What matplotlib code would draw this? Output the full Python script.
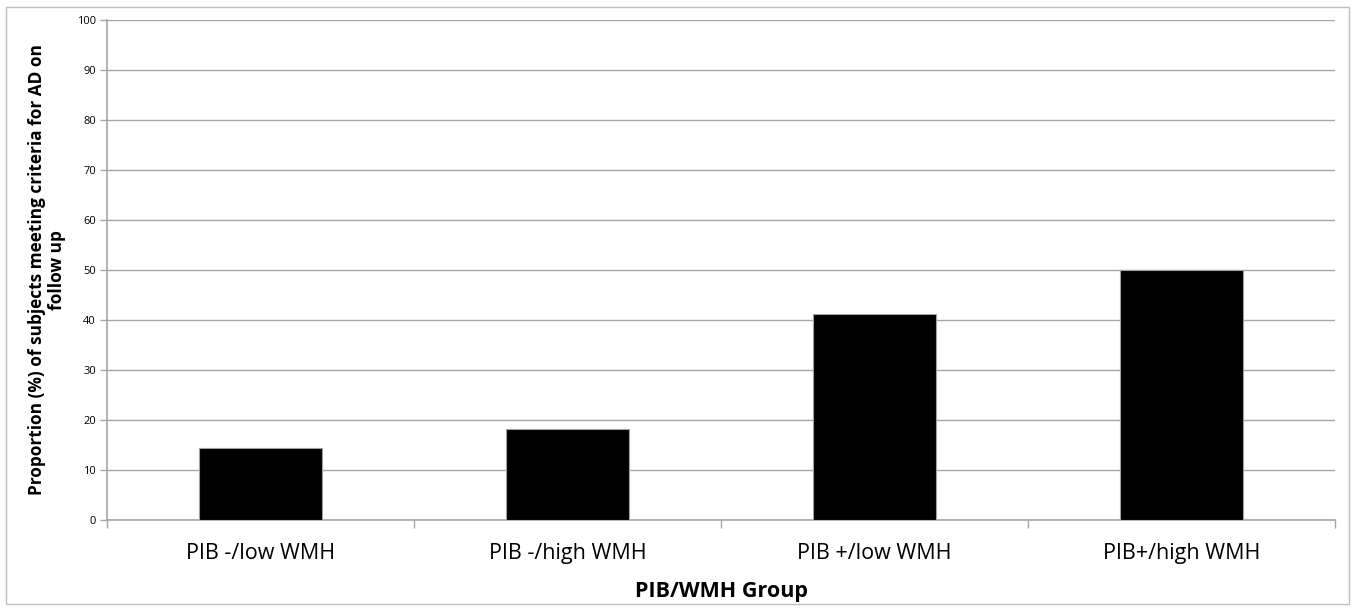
import matplotlib
matplotlib.use('Agg')
import matplotlib.pyplot as plt
from matplotlib.patches import Rectangle

groups = ['PIB -/low WMH', 'PIB -/high WMH', 'PIB +/low WMH', 'PIB+/high WMH']
proportions = [14.3, 18.2, 41.2, 50.0]

plt.rcParams['font.family'] = ['Open Sans', 'DejaVu Sans']

fig = plt.figure(figsize=(13.55, 6.1), dpi=100)
ax = fig.add_axes([107 / 1355, 1 - 519.5 / 610, 1228 / 1355, 499.5 / 610])

grid_color = '#a6a6a6'
x = list(range(len(groups)))
ax.bar(x, proportions, width=0.40, color='black', edgecolor='#a0a0a0', linewidth=0.8, zorder=3)

ax.set_xlim(-0.5, len(groups) - 0.5)
ax.set_ylim(0, 100)
ax.set_yticks(range(0, 101, 10))
ax.yaxis.grid(True, color=grid_color, linewidth=1.0, zorder=0)
ax.set_axisbelow(True)

ax.set_xticks(x)
ax.set_xticklabels(groups, fontsize=15.5)
ax.tick_params(axis='x', length=0, pad=17)
ax.set_xticks([i - 0.5 for i in range(len(groups) + 1)], minor=True)
ax.tick_params(axis='x', which='minor', length=6, color=grid_color, width=1)
ax.tick_params(axis='y', labelsize=8, length=5, color=grid_color, width=1, pad=3)

for side in ['top', 'right']:
    ax.spines[side].set_visible(False)
for side in ['left', 'bottom']:
    ax.spines[side].set_color(grid_color)
    ax.spines[side].set_linewidth(1.2)

ax.set_xlabel('PIB/WMH Group', fontsize=15.5, fontweight='bold', labelpad=12)
ax.set_ylabel('Proportion (%) of subjects meeting criteria for AD on\nfollow up',
              fontsize=12.4, fontweight='bold', labelpad=8, linespacing=1.15)

fig.patches.append(Rectangle((6 / 1355, 6 / 610), 1343 / 1355, 597 / 610,
                             transform=fig.transFigure, fill=False,
                             edgecolor='#bfbfbf', linewidth=1))

plt.savefig('out.png', dpi=100)
